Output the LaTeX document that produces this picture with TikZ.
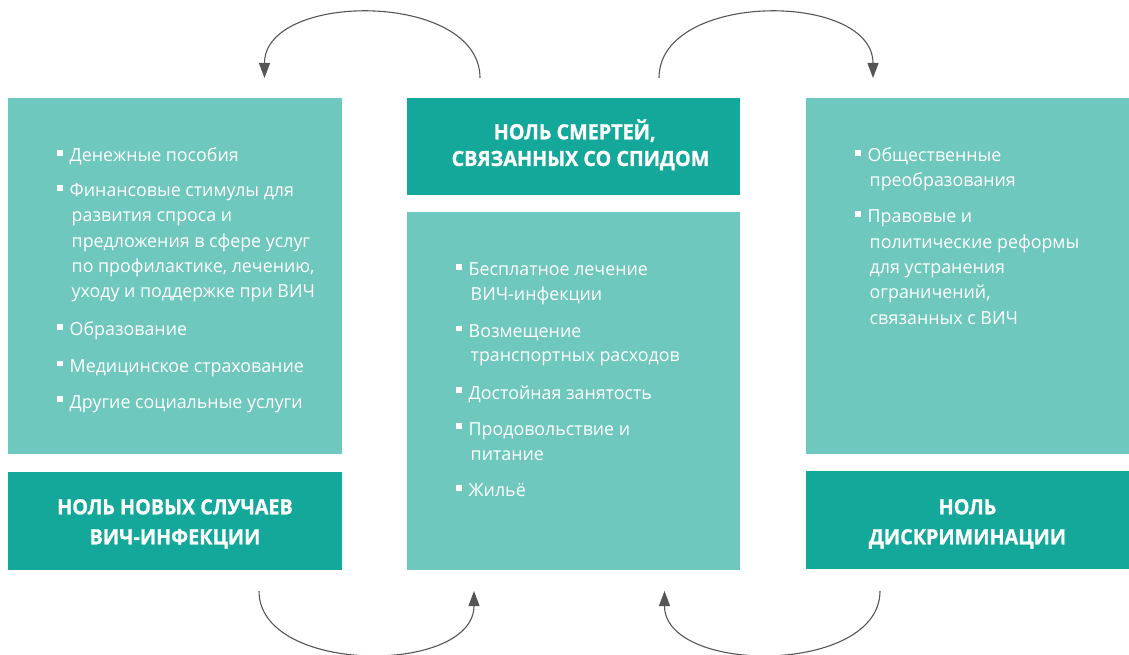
\documentclass[tikz,border=0pt]{standalone}
\usepackage{fontspec}
\setmainfont{Open Sans}
\newfontfamily\bodyfont{Open Sans}[FakeStretch=0.99]
\newfontfamily\headfont{Open Sans}[FakeStretch=0.94, BoldFeatures={FakeBold=1}]
\usetikzlibrary{arrows.meta,calc}
\definecolor{lightteal}{HTML}{6FC8BD}
\definecolor{darkteal}{HTML}{13A89A}
\definecolor{arrowgray}{HTML}{555555}
\tikzset{
  box/.style={draw=none, inner sep=0pt, outer sep=0pt, anchor=north west},
  lightbox/.style={box, fill=lightteal},
  darkbox/.style={box, fill=darkteal},
  txt/.style={anchor=base west, inner sep=0pt, text=white, font=\bodyfont\fontsize{18}{22}\selectfont},
  head/.style={anchor=base, inner sep=0pt, text=white, font=\headfont\bfseries\fontsize{21}{24}\selectfont},
  bul/.style={fill=white, draw=none, inner sep=0pt, minimum size=5.6pt},
  loop/.style={draw=arrowgray, line width=1.1pt, -{Triangle[length=15pt,width=11pt]}},
}
\newcommand\bitem[4]{\node[bul] (#1b) at (#2-9.5,#3-8.8) {}; \node[txt] (#1) at (#2,#3) {#4};}
\newcommand\citem[4]{\node[txt] (#1) at (#2+2,#3) {#4};}
\begin{document}
\begin{tikzpicture}[x=1pt,y=-1pt]
\useasboundingbox (0,0) rectangle (1129,655);
% boxes
\node[lightbox, minimum width=334pt, minimum height=356pt] (Lbox) at (8,98) {};
\node[darkbox, minimum width=334pt, minimum height=98pt] (Lhead) at (8,472) {};
\node[darkbox, minimum width=333pt, minimum height=97.5pt] (Chead) at (407,98) {};
\node[lightbox, minimum width=333pt, minimum height=358pt] (Cbox) at (407,212) {};
\node[lightbox, minimum width=323pt, minimum height=356pt] (Rbox) at (806,98) {};
\node[darkbox, minimum width=323pt, minimum height=98pt] (Rhead) at (806,471) {};
% headers
\node[head] (ch1) at (574.7,139.3) {НОЛЬ СМЕРТЕЙ,};
\node[head] (ch2) at (580.5,166) {СВЯЗАННЫХ СО СПИДОМ};
\node[head] (lh1) at (175,514.3) {НОЛЬ НОВЫХ СЛУЧАЕВ};
\node[head] (lh2) at (175,544.3) {ВИЧ-ИНФЕКЦИИ};
\node[head] (rh1) at (967.5,514.3) {НОЛЬ};
\node[head] (rh2) at (967.5,544.3) {ДИСКРИМИНАЦИИ};
% left items
\bitem{l1}{69.5}{161.7}{Денежные пособия}
\bitem{l2}{69.5}{196.7}{Финансовые стимулы для}
\citem{l2a}{69.5}{221.9}{развития спроса и}
\citem{l2b}{69.5}{247.1}{предложения в сфере услуг}
\citem{l2c}{69.5}{272.3}{по профилактике, лечению,}
\citem{l2d}{69.5}{297.5}{уходу и поддержке при ВИЧ}
\bitem{l3}{69.5}{335.7}{Образование}
\bitem{l4}{69.5}{372.3}{Медицинское страхование}
\bitem{l5}{69.5}{408}{Другие социальные услуги}
% center items
\bitem{c1}{468.5}{275.7}{Бесплатное лечение}
\citem{c1a}{468.5}{300.7}{ВИЧ-инфекции}
\bitem{c2}{468.5}{337.3}{Возмещение}
\citem{c2a}{468.5}{361.9}{транспортных расходов}
\bitem{c3}{468.5}{399}{Достойная занятость}
\bitem{c4}{468.5}{435}{Продовольствие и}
\citem{c4a}{468.5}{460}{питание}
\bitem{c5}{468.5}{496.7}{Жильё}
% right items
\bitem{r1}{867.5}{161.7}{Общественные}
\citem{r1a}{867.5}{186.9}{преобразования}
\bitem{r2}{867.5}{222.7}{Правовые и}
\citem{r2a}{867.5}{248.1}{политические реформы}
\citem{r2b}{867.5}{273.5}{для устранения}
\citem{r2c}{867.5}{298.9}{ограничений,}
\citem{r2d}{867.5}{324.3}{связанных с ВИЧ}
% arrow end points
\coordinate (a1s) at (480,78);
\coordinate (a1e) at (264.5,78);
\coordinate (a2s) at (659,78);
\coordinate (a2e) at (873,78);
\coordinate (a3s) at (259,591);
\coordinate (a3e) at (474,591);
\coordinate (a4s) at (880,591);
\coordinate (a4e) at (664.5,591);
\draw[loop] (a1s) .. controls ($(a1s)+(0,-87)$) and ($(a1e)+(0,-87)$) .. (a1e);
\draw[loop] (a2s) .. controls ($(a2s)+(0,-87)$) and ($(a2e)+(0,-87)$) .. (a2e);
\draw[loop] (a3s) .. controls ($(a3s)+(0,84)$) and ($(a3e)+(0,84)$) .. (a3e);
\draw[loop] (a4s) .. controls ($(a4s)+(0,84)$) and ($(a4e)+(0,84)$) .. (a4e);
\end{tikzpicture}
\end{document}
